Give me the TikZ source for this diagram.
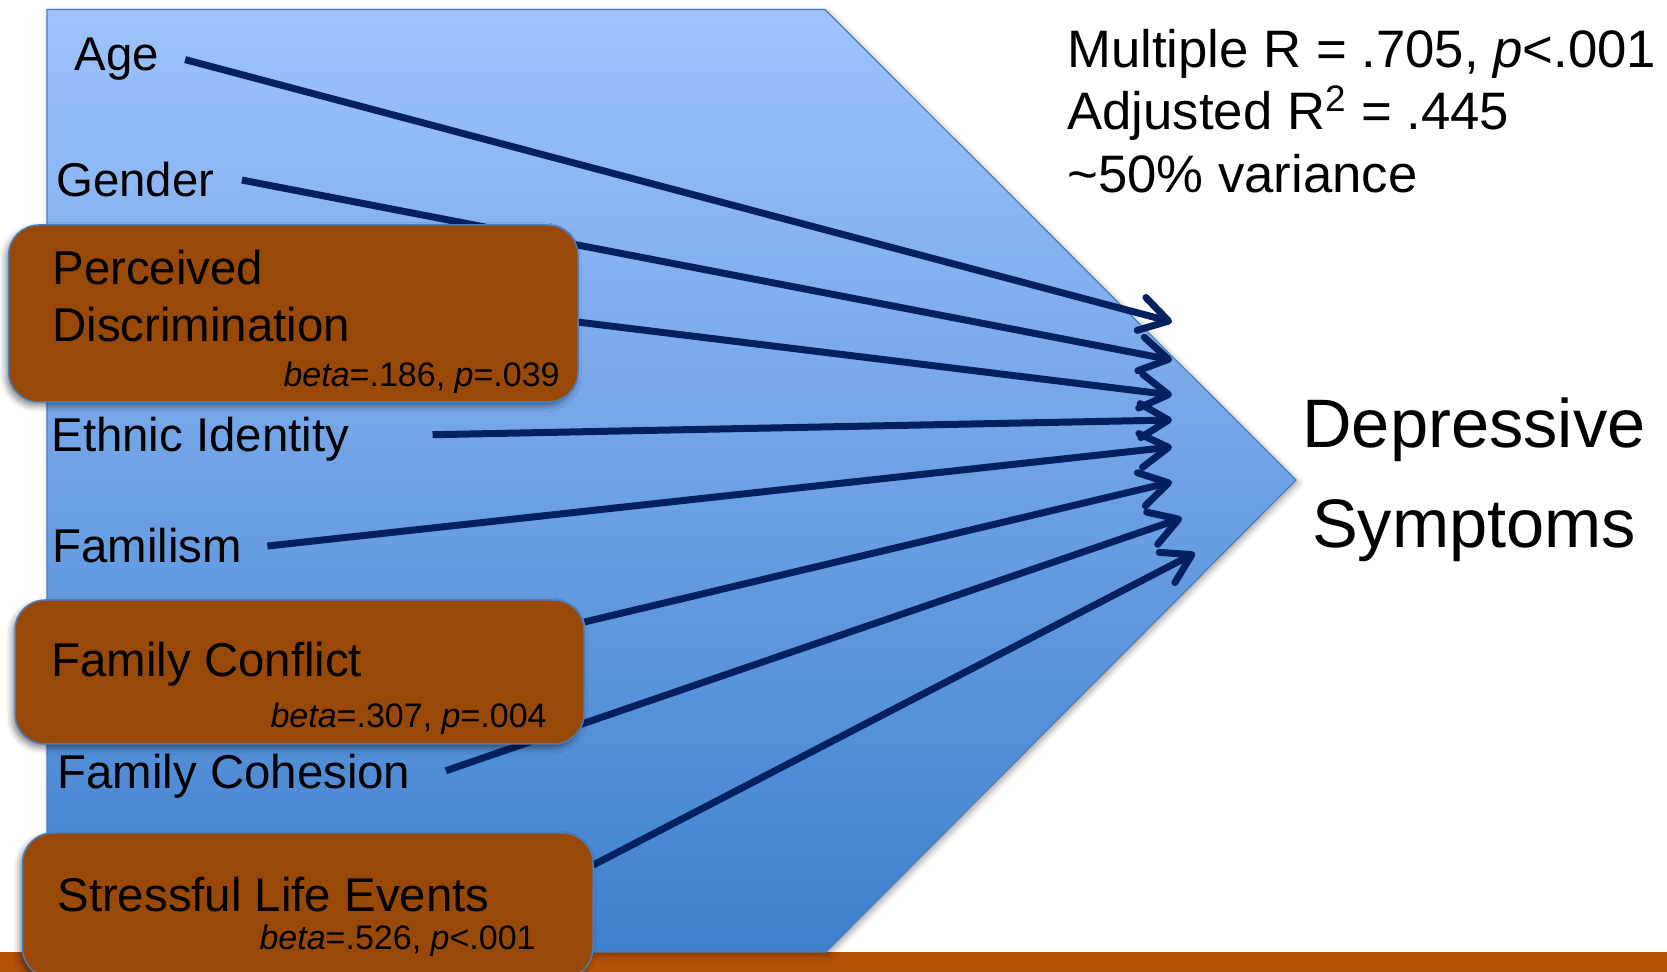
\documentclass[tikz,border=0pt]{standalone}
\usepackage{fontspec}
\setmainfont{Liberation Sans}
\usetikzlibrary{arrows.meta,shadows.blur}

\definecolor{panelTop}{RGB}{158,195,254}
\definecolor{panelBot}{RGB}{62,128,204}
\definecolor{panelEdge}{RGB}{74,126,187}
\definecolor{boxBrown}{RGB}{152,72,7}
\definecolor{barOrange}{RGB}{180,82,7}
\definecolor{navy}{RGB}{0,32,96}

\newcommand{\fsLabel}{\fontsize{23.7}{28.4}\selectfont}
\newcommand{\fsStat}{\fontsize{26.35}{31.6}\selectfont}
\newcommand{\fsOut}{\fontsize{34.3}{41}\selectfont}
\newcommand{\fsCoef}{\fontsize{17}{20.4}\selectfont}

\tikzset{
  factor/.style={draw=panelEdge, line width=0.75pt, fill=boxBrown,
    rounded corners=15pt, inner sep=0pt,
    blur shadow={shadow xshift=-1.5pt, shadow yshift=-2pt,
      shadow blur radius=3pt, shadow opacity=45}},
  label/.style={inner sep=0pt, anchor=base west, font=\fsLabel},
  coef/.style={inner sep=0pt, anchor=base east, font=\fsCoef},
  stat/.style={inner sep=0pt, anchor=base west, font=\fsStat},
  outcome/.style={inner sep=0pt, anchor=base, font=\fsOut},
  link/.style={draw=navy, line width=3.5pt,
    -{Straight Barb[length=14pt, width=17pt, line cap=round, line join=round]}}
}

\begin{document}
\begin{tikzpicture}[x=0.5pt, y=-0.5pt]
\useasboundingbox (0,0) rectangle (1667,972);

% footer band
\fill[barOrange] (0,952) rectangle (1667,972);

% arrow-shaped panel
\path[top color=panelTop, bottom color=panelBot, draw=panelEdge, line width=0.6pt,
  blur shadow={shadow xshift=1.2pt, shadow yshift=-1.5pt, shadow blur radius=3pt, shadow opacity=35}]
  (47,9.5) -- (825,9.5) -- (1296,480) -- (826,952) -- (47,952) -- cycle;

% predictor labels
\node[label] (age) at (74,71) {Age};
\node[label] (gender) at (56,197) {Gender};
\node[label] (ethnic) at (51,452) {Ethnic Identity};
\node[label] (familism) at (52,563) {Familism};
\node[label] (cohesion) at (57,789) {Family Cohesion};

% arrow tips converging on the outcome
\coordinate (t1) at (1172,322);
\coordinate (t2) at (1172,360);
\coordinate (t3) at (1172,395);
\coordinate (t4) at (1172,420);
\coordinate (t5) at (1172,447);
\coordinate (t6) at (1172,482);
\coordinate (t7) at (1182,518);
\coordinate (t8) at (1195,553);

% significant predictors (boxes placed after the links so they cover them)
\path (293.35,313.5) coordinate (pdc) (299.5,672) coordinate (fcc) (307.75,905.5) coordinate (slec);

\draw[link] ([xshift=13pt]age.east) -- (t1);
\draw[link] ([xshift=13.5pt]gender.east) -- (t2);
\draw[link] ([xshift=142pt,yshift=-4.25pt]pdc) -- (t3);
\draw[link] ([xshift=41.5pt,yshift=2.5pt]ethnic.east) -- (t4);
\draw[link] ([xshift=12.5pt]familism.east) -- (t5);
\draw[link] ([xshift=142.5pt,yshift=25pt]fcc) -- (t6);
\draw[link] ([xshift=17.5pt,yshift=3pt]cohesion.east) -- (t7);
\draw[link] ([xshift=142.75pt,yshift=20.25pt]slec) -- (t8);

\node[factor, minimum width=284.65pt, minimum height=88.5pt] (pd) at (pdc) {};
\node[factor, minimum width=284.5pt, minimum height=72pt] (fc) at (fcc) {};
\node[factor, minimum width=285.25pt, minimum height=72.5pt] (sle) at (slec) {};

\node[label] (pd1) at (52,285) {Perceived};
\node[label] (pd2) at (52,342) {Discrimination};
\node[coef] (pdb) at (560,387) {\textit{beta}=.186, \textit{p}=.039};

\node[label] (fc1) at (51,677) {Family Conflict};
\node[coef] (fcb) at (547,728) {\textit{beta}=.307, \textit{p}=.004};

\node[label] (sle1) at (57,912) {Stressful Life Events};
\node[coef] (sleb) at (536,950) {\textit{beta}=.526, \textit{p}<.001};

% model summary
\node[stat] (s1) at (1067,68) {Multiple R = .705, \textit{p}<.001};
\node[stat] (s2) at (1067,130) {Adjusted R\textsuperscript{2} = .445};
\node[stat] (s3) at (1067,193) {\textasciitilde 50\% variance};

% outcome
\node[outcome] (dep1) at (1474,448) {Depressive};
\node[outcome] (dep2) at (1474,548) {Symptoms};
\end{tikzpicture}
\end{document}
